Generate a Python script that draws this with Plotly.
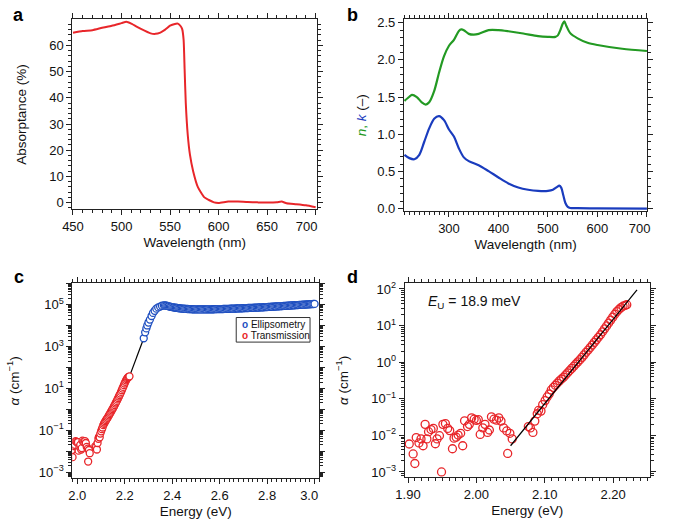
import plotly.graph_objects as go

# ---------------- data ----------------
# panel a: absorptance
wl_a = [450, 460, 470, 480, 490, 500, 505, 510, 520, 530, 535, 540, 545, 550, 555, 558,
        561, 562.5, 564, 565, 566.2, 568.2, 570.5, 573.8, 578.8, 585.4, 590, 595.3, 600,
        610, 620, 630, 640, 650, 660, 665, 670, 680, 690, 700]
absorp_a = [64.8, 65.5, 65.8, 66.7, 67.5, 68.5, 69.0, 68.3, 66.3, 64.6, 64.4, 64.9, 66.0, 67.5, 68.2, 68.3,
            67.3, 66.2, 62.0, 51.0, 38.0, 26.0, 18.3, 12.0, 5.8, 2.0, 1.0, 0.1, -0.1,
            0.4, 0.4, 0.25, 0.1, 0.0, 0.1, 0.4, -0.25, -0.6, -1.0, -1.75]

# panel b: n and k
wl_n = [210, 220, 225, 235, 245, 253, 260, 270, 280, 290, 300, 310, 320, 325, 330, 340, 350, 360,
        380, 400, 420, 450, 480, 500, 515, 520, 525, 530, 533, 537, 545, 560, 580, 600, 650, 700]
n_vals = [1.45, 1.505, 1.53, 1.50, 1.43, 1.40, 1.43, 1.58, 1.83, 2.05, 2.19, 2.27, 2.39, 2.41, 2.40,
          2.35, 2.34, 2.35, 2.40, 2.40, 2.385, 2.355, 2.32, 2.31, 2.31, 2.33, 2.40, 2.49, 2.52, 2.46,
          2.36, 2.29, 2.23, 2.20, 2.15, 2.12]
wl_k = [210, 220, 230, 240, 250, 260, 270, 280, 290, 300, 310, 320, 330, 340, 360, 380, 400, 420,
        440, 460, 480, 500, 510, 518, 523, 527, 531, 535, 540, 545, 560, 600, 700]
k_vals = [0.725, 0.68, 0.665, 0.725, 0.90, 1.08, 1.21, 1.245, 1.19, 1.065, 0.97, 0.81, 0.69, 0.64,
          0.585, 0.505, 0.42, 0.34, 0.285, 0.255, 0.24, 0.24, 0.255, 0.29, 0.31, 0.28, 0.18, 0.08,
          0.025, 0.01, 0.008, 0.004, 0.0]

# panel c: ellipsometry absorption coefficient (cm^-1)
ell_E = [2.280, 2.286, 2.291, 2.295, 2.300, 2.306, 2.313, 2.319, 2.326, 2.333, 2.341, 2.349, 2.357,
         2.365, 2.370, 2.375, 2.380, 2.385, 2.390, 2.395, 2.400, 2.405, 2.410, 2.415, 2.420,
         2.425, 2.430, 2.435, 2.440, 2.445, 2.450, 2.455, 2.460, 2.465, 2.470, 2.475, 2.480,
         2.485, 2.490, 2.495, 2.500, 2.505, 2.510, 2.515, 2.520, 2.525, 2.530, 2.535, 2.540,
         2.545, 2.550, 2.555, 2.560, 2.565, 2.570, 2.575, 2.580, 2.585, 2.590, 2.595, 2.600,
         2.605, 2.610, 2.615, 2.620, 2.625, 2.630, 2.635, 2.640, 2.645, 2.650, 2.655, 2.660,
         2.665, 2.670, 2.675, 2.680, 2.685, 2.690, 2.695, 2.700, 2.705, 2.710, 2.715, 2.720,
         2.725, 2.730, 2.735, 2.740, 2.745, 2.750, 2.755, 2.760, 2.765, 2.770, 2.775, 2.780,
         2.785, 2.790, 2.795, 2.800, 2.805, 2.810, 2.815, 2.820, 2.825, 2.830, 2.835, 2.840,
         2.845, 2.850, 2.855, 2.860, 2.865, 2.870, 2.875, 2.880, 2.885, 2.890, 2.895, 2.900,
         2.905, 2.910, 2.915, 2.920, 2.925, 2.930, 2.935, 2.940, 2.945, 2.950, 2.955, 2.960,
         2.965, 2.970, 2.975, 2.980, 2.985, 2.990, 2.995, 3.000]
ell_alpha = [2450, 4680, 7240, 10000, 13800, 19000, 28200, 39800, 50100, 63100, 72400, 79400, 87100,
             91200, 90200, 87700, 85100, 82200, 79400, 77100, 75000, 73100, 71300, 69800, 68400,
             67200, 66100, 65100, 64100, 63400, 62700, 62000, 61400, 60900, 60400, 60000, 59700,
             59400, 59200, 58900, 58700, 58600, 58500, 58400, 58300, 58300, 58300, 58400, 58500,
             58500, 58600, 58700, 58900, 59000, 59200, 59400, 59600, 59800, 60000, 60200, 60400,
             60600, 60800, 61000, 61200, 61500, 61800, 62100, 62400, 62700, 63000, 63250, 63500,
             63900, 64300, 64650, 65000, 65400, 65800, 66150, 66500, 66900, 67300, 67700, 68100,
             68500, 68900, 69300, 69700, 70150, 70600, 71100, 71600, 72100, 72600, 73100, 73600,
             74100, 74600, 75150, 75700, 76300, 76900, 77550, 78200, 78850, 79500, 80200, 80900,
             81600, 82300, 83000, 83700, 84400, 85100, 85850, 86600, 87350, 88100, 88850, 89600,
             90400, 91200, 92000, 92800, 93600, 94400, 95200, 96000, 96850, 97700, 98550, 99400,
             100250, 101100, 102000, 102900, 103800, 104700, 105600, 106500]

# panels c, d: transmission absorption coefficient (cm^-1)
tr_E = [1.9018, 1.9075, 1.9100, 1.9120, 1.9160, 1.9190, 1.9220, 1.9250, 1.9276, 1.9300, 1.9336,
        1.9370, 1.9400, 1.9425, 1.9460, 1.9490, 1.9510, 1.9547, 1.9580, 1.9610, 1.9650, 1.9673,
        1.9705, 1.9733, 1.9770, 1.9800, 1.9827, 1.9870, 1.9897, 1.9930, 1.9967, 2.0000, 2.0028,
        2.0056, 2.0094, 2.0126, 2.0164, 2.0190, 2.0220, 2.0257, 2.0294, 2.0328, 2.0360, 2.0398,
        2.0444, 2.0458, 2.0490, 2.0524, 2.0760, 2.0790, 2.0827, 2.0855, 2.0890, 2.0910, 2.0945,
        2.0970, 2.1005, 2.1035, 2.1065, 2.1095, 2.1125, 2.1155, 2.1185, 2.1215, 2.1245, 2.1275,
        2.1305, 2.1335, 2.1365, 2.1395, 2.1425, 2.1455, 2.1485, 2.1515, 2.1545, 2.1575, 2.1605,
        2.1635, 2.1665, 2.1695, 2.1725, 2.1755, 2.1785, 2.1815, 2.1845, 2.1875, 2.1905, 2.1935,
        2.1965, 2.1995, 2.2025, 2.2055, 2.2085, 2.2115, 2.2145, 2.2175, 2.2200]
tr_alpha = [5.8e-3, 3.1e-3, 1.7e-3, 8.7e-3, 6.2e-3, 8.0e-3, 5.2e-3, 0.020, 8.0e-3, 0.0126, 0.0144,
            0.0155, 5.9e-3, 8.0e-3, 9.8e-3, 1.0e-3, 0.020, 0.021, 0.0155, 0.0135, 4.3e-3, 8.4e-3,
            8.9e-3, 0.0102, 0.0114, 5.2e-3, 0.025, 0.0174, 0.020, 0.030, 0.0276, 0.0256, 0.027,
            0.0106, 0.016, 0.020, 0.012, 0.014, 0.032, 0.0276, 0.026, 0.030, 0.0245, 0.016,
            0.0132, 3.2e-3, 0.0114, 8.0e-3, 0.0174, 0.016, 0.012, 0.0245, 0.039, 0.048, 0.046,
            0.069, 0.089, 0.112, 0.135, 0.174, 0.204, 0.234, 0.269, 0.309, 0.347, 0.389,
            0.447, 0.513, 0.589, 0.676, 0.776, 0.891, 1.02, 1.17, 1.35, 1.58, 1.86,
            2.14, 2.51, 2.95, 3.47, 4.07, 4.79, 5.62, 6.76, 8.13, 9.77, 11.7,
            14.1, 17.0, 20.4, 24.0, 27.5, 30.9, 33.9, 35.5, 37.2]

# connecting line in c and Urbach fit in d
join_E = [2.2200, 2.2800]
join_alpha = [37.2, 2450]
fit_E = [2.050, 2.235]
fit_alpha = [5.2e-3, 95.0]

# tick labels
ticks_a = [450, 500, 550, 600, 650, 700]
ticks_b = [300, 400, 500, 600, 700]
ticks_c = [2.0, 2.2, 2.4, 2.6, 2.8, 3.0]

# ---------------- style ----------------
RED = "#e8262a"
GREEN = "#239a23"
BLUE = "#1a3cbe"
EBLUE = "#1f4fc0"
AX = "#222222"
FONT = "Liberation Sans, Arial, sans-serif"
NB = "\u00a0"
MAJ_LEN, MIN_LEN, TW = 5, 3, 1.3

fig = go.Figure()

fig.add_trace(go.Scatter(x=wl_a, y=absorp_a, mode="lines",
                         line=dict(color=RED, width=2, shape="spline", smoothing=0.5),
                         xaxis="x", yaxis="y", showlegend=False))
fig.add_trace(go.Scatter(x=wl_n, y=n_vals, mode="lines",
                         line=dict(color=GREEN, width=2.2, shape="spline", smoothing=0.8),
                         xaxis="x2", yaxis="y2", showlegend=False))
fig.add_trace(go.Scatter(x=wl_k, y=k_vals, mode="lines",
                         line=dict(color=BLUE, width=2.2, shape="spline", smoothing=0.8),
                         xaxis="x2", yaxis="y2", showlegend=False))

fig.add_trace(go.Scatter(x=join_E, y=join_alpha, mode="lines", line=dict(color="black", width=1.2),
                         xaxis="x3", yaxis="y3", showlegend=False))
fig.add_trace(go.Scatter(x=ell_E, y=ell_alpha, mode="markers", name="Ellipsometry",
                         marker=dict(symbol="circle", size=7, color="white", line=dict(color=EBLUE, width=1.3)),
                         xaxis="x3", yaxis="y3", showlegend=False))
fig.add_trace(go.Scatter(x=tr_E, y=tr_alpha, mode="markers", name="Transmission",
                         marker=dict(symbol="circle", size=7, color="white", line=dict(color=RED, width=1.3)),
                         xaxis="x3", yaxis="y3", showlegend=False))

fig.add_trace(go.Scatter(x=tr_E, y=tr_alpha, mode="markers",
                         marker=dict(symbol="circle-open", size=8, color=RED, line=dict(color=RED, width=1.3)),
                         xaxis="x4", yaxis="y4", showlegend=False))
fig.add_trace(go.Scatter(x=fit_E, y=fit_alpha, mode="lines", line=dict(color="black", width=1.2),
                         xaxis="x4", yaxis="y4", showlegend=False))

TICKFONT = dict(family=FONT, size=13, color="#111")
TITLEFONT = dict(family=FONT, size=13.5, color="#111")


def main_axis(domain, rng, anchor, title, standoff, minor, typ="linear", **kw):
    d = dict(domain=domain, range=rng, anchor=anchor, type=typ,
             showline=True, linecolor=AX, linewidth=1, mirror="allticks",
             ticks="outside", ticklen=MAJ_LEN, tickwidth=TW, tickcolor=AX,
             minor=dict(ticks="outside", ticklen=MIN_LEN, tickwidth=TW, tickcolor=AX, showgrid=False, **minor),
             showgrid=False, zeroline=False, tickfont=TICKFONT,
             title=dict(text=title, font=TITLEFONT, standoff=standoff))
    d.update(kw)
    return d


def sup(e):
    return "10<sup>" + str(e).replace("-", "\u2212") + "</sup>"


alpha_title = "<i>α</i> (cm<sup>\u22121</sup>)"

dec_c = list(range(-4, 7))
dec_d = list(range(-4, 3))
major_c = [10.0 ** e for e in dec_c]
major_d = [10.0 ** e for e in dec_d]
minor_c = [m * 10.0 ** e for e in dec_c for m in range(2, 10)]
minor_d = [m * 10.0 ** e for e in dec_d for m in range(2, 10)]

fig.update_layout(
    width=675, height=524, autosize=False,
    margin=dict(l=0, r=0, t=0, b=0),
    paper_bgcolor="white", plot_bgcolor="rgba(0,0,0,0)",
    font=dict(family=FONT, color="#111"),
    showlegend=False,
    xaxis=main_axis([0.0963, 0.4748], [449.3, 701.6], "y", "Wavelength (nm)", 4,
                    dict(tickmode="linear", tick0=0, dtick=10),
                    tickmode="array", tickvals=ticks_a,
                    ticktext=[str(v) if v != 700 else "700" + NB * 5 for v in ticks_a]),
    yaxis=main_axis([0.6011, 0.9700], [-2.6, 69.9], "x", "Absorptance (%)", 19,
                    dict(tickmode="linear", tick0=0, dtick=2), dtick=10, tick0=0),
    xaxis2=main_axis([0.6089, 0.9852], [209, 701], "y2", "Wavelength (nm)", 4,
                     dict(tickmode="linear", tick0=0, dtick=10),
                     tickmode="array", tickvals=ticks_b,
                     ticktext=[str(v) if v != 700 else "700" + NB * 4 for v in ticks_b]),
    yaxis2=main_axis([0.5979, 0.9700], [-0.032, 2.544], "x2",
                     "<span style='color:%s'><i>n</i>,</span> <span style='color:%s'><i>k</i></span> (\u2013)" % (GREEN, BLUE),
                     7, dict(tickmode="linear", tick0=0, dtick=0.1), dtick=0.5, tick0=0, tickformat=".1f"),
    xaxis3=main_axis([0.0963, 0.4781], [1.979, 3.02], "y3", "Energy (eV)", 4,
                     dict(tickmode="linear", tick0=0, dtick=0.02),
                     tickmode="array", tickvals=ticks_c,
                     ticktext=["%.1f" % v if v != 3.0 else "3.0" + NB * 3 for v in ticks_c]),
    yaxis3=main_axis([0.0788, 0.4580], [-3.3, 6.02], "x3", alpha_title, 16,
                     dict(tickmode="array", tickvals=minor_c), typ="log",
                     tickmode="array", tickvals=major_c,
                     ticktext=[sup(e) if e in (-3, -1, 1, 3, 5) else "" for e in dec_c]),
    xaxis4=main_axis([0.6099, 0.9892], [1.895, 2.254], "y4", "Energy (eV)", 4,
                     dict(tickmode="linear", tick0=0, dtick=0.01),
                     dtick=0.1, tick0=0, tickformat=".2f"),
    yaxis4=main_axis([0.0807, 0.4580], [-3.15, 2.16], "x4", alpha_title, 19,
                     dict(tickmode="array", tickvals=minor_d), typ="log",
                     tickmode="array", tickvals=major_d, ticktext=[sup(e) for e in dec_d]),
)

# panel letters
for t, px, py in [("a", 9, 11), ("b", 357, 11), ("c", 9, 278), ("d", 357, 278)]:
    fig.add_annotation(text="<b>%s</b>" % t, x=px / 675, y=1 - py / 524, xref="paper", yref="paper",
                       xanchor="center", yanchor="middle", showarrow=False,
                       font=dict(family=FONT, size=18, color="black"))

# legend of panel c (box + entries)
fig.add_shape(type="rect", xref="x3 domain", yref="y3 domain",
              x0=(236 - 65) / 257.7, x1=(313 - 65) / 257.7,
              y0=(482.7 - 344) / 198.7, y1=(482.7 - 319) / 198.7,
              line=dict(color="#333", width=1), fillcolor="white", layer="above")
for name, col, py in [("Ellipsometry", EBLUE, 326), ("Transmission", RED, 337)]:
    fig.add_annotation(text="<span style='color:%s;font-weight:bold'>o</span> %s" % (col, name),
                       x=(240 - 65) / 257.7, y=(482.7 - py) / 198.7, xref="x3 domain", yref="y3 domain",
                       xanchor="left", yanchor="middle", showarrow=False,
                       font=dict(family=FONT, size=10, color="#111"))

fig.add_annotation(text="<i>E</i><sub>U</sub> = 18.9 meV", x=0.087, y=0.905,
                   xref="x4 domain", yref="y4 domain", xanchor="left", yanchor="middle",
                   showarrow=False, font=dict(family=FONT, size=14, color="#111"))

fig.write_html("out.html", config={"displayModeBar": False},
               post_script="document.body.style.margin='0';")
